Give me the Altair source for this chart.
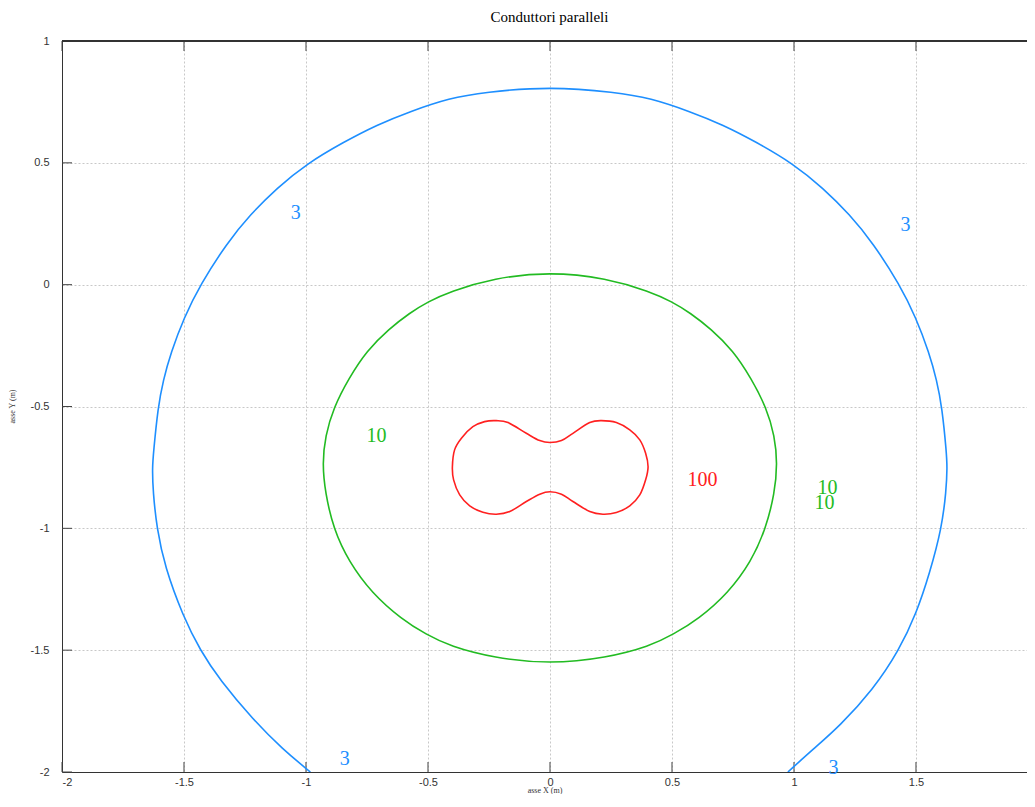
import altair as alt
import pandas as pd

# contour level 3 (open: cut by the bottom of the plot)
blue_x = [-0.982, -1.094, -1.217, -1.354, -1.433, -1.504, -1.579, -1.611, -1.627, -1.630, -1.625,
          -1.607, -1.585, -1.554, -1.500, -1.433, -1.324, -1.228, -1.119, -0.996, -0.846, -0.709,
          -0.573, -0.411, -0.270, 0.0,
          0.270, 0.411, 0.573, 0.709, 0.846, 0.996, 1.119, 1.228, 1.324, 1.433, 1.500, 1.554,
          1.585, 1.607, 1.625, 1.628, 1.624, 1.605, 1.556, 1.502, 1.430, 1.324, 1.187, 1.080, 0.975]
blue_y = [-2.0, -1.908, -1.785, -1.621, -1.502, -1.361, -1.157, -1.002, -0.850, -0.750, -0.689,
          -0.505, -0.391, -0.280, -0.135, 0.0, 0.171, 0.288, 0.397, 0.497, 0.585, 0.656,
          0.711, 0.766, 0.790, 0.8135,
          0.790, 0.766, 0.711, 0.656, 0.585, 0.497, 0.397, 0.288, 0.171, 0.0, -0.135, -0.280,
          -0.391, -0.505, -0.689, -0.750, -0.845, -1.002, -1.184, -1.348, -1.502, -1.662, -1.812,
          -1.905, -2.0]

# contour level 10 (closed)
green_x = [0.0, 0.231, 0.409, 0.500, 0.575, 0.660, 0.750, 0.825, 0.887, 0.921, 0.932, 0.921,
           0.884, 0.825, 0.730, 0.609, 0.504, 0.409, 0.231, 0.0, -0.231, -0.409, -0.507, -0.609,
           -0.730, -0.825, -0.887, -0.921, -0.933, -0.921, -0.887, -0.825, -0.750, -0.660,
           -0.575, -0.500, -0.409, -0.231]
green_y = [0.053, 0.027, -0.028, -0.070, -0.116, -0.182, -0.270, -0.385, -0.505, -0.621, -0.733,
           -0.856, -1.003, -1.136, -1.266, -1.372, -1.436, -1.484, -1.532, -1.557, -1.532, -1.484,
           -1.436, -1.372, -1.266, -1.136, -1.003, -0.856, -0.733, -0.621, -0.505, -0.385, -0.270,
           -0.182, -0.116, -0.070, -0.028, 0.027]

# contour level 100 (closed)
red_x = [0.0, 0.047, 0.094, 0.163, 0.211, 0.272, 0.327, 0.368, 0.392, 0.402, 0.392, 0.368, 0.327,
         0.272, 0.217, 0.163, 0.094, 0.047, 0.0, -0.042, -0.097, -0.165, -0.220, -0.275, -0.329,
         -0.370, -0.395, -0.400, -0.391, -0.363, -0.316, -0.268, -0.220, -0.172, -0.097, -0.042]
red_y = [-0.648, -0.640, -0.610, -0.566, -0.558, -0.566, -0.596, -0.637, -0.692, -0.747, -0.801,
         -0.863, -0.908, -0.935, -0.942, -0.931, -0.890, -0.860, -0.850, -0.860, -0.890, -0.931,
         -0.942, -0.934, -0.908, -0.863, -0.801, -0.747, -0.678, -0.630, -0.583, -0.562, -0.558,
         -0.566, -0.610, -0.640]

# contour labels
label_text = ["3", "3", "3", "3", "10", "10", "10", "100"]
label_x = [-1.042, 1.457, -0.841, 1.162, -0.711, 1.137, 1.125, 0.625]
label_y = [0.293, 0.244, -1.945, -1.982, -0.621, -0.834, -0.895, -0.801]

levels = ["3", "10", "100"]
level_colors = ["#1e8fff", "#22bb22", "#ff2020"]

x_ticks = [-2, -1.5, -1, -0.5, 0, 0.5, 1, 1.5]
y_ticks = [1, 0.5, 0, -0.5, -1, -1.5, -2]

W, H = 965, 731

xscale = alt.Scale(domain=[-2, 1.955], nice=False, zero=False)
yscale = alt.Scale(domain=[-2, 1], nice=False, zero=False)
cscale = alt.Scale(domain=levels, range=level_colors)

xaxis = alt.Axis(values=x_ticks, labelExpr="datum.value + ''", title="asse X (m)",
                 ticks=False, grid=True, labelPadding=4, titleY=18,
                 titleBaseline="middle")
yaxis = alt.Axis(values=y_ticks, labelExpr="datum.value + ''", title="asse Y (m)",
                 ticks=False, grid=True, labelPadding=13, titleX=-50, titleY=365,
                 titleAngle=-90, titleAlign="center", titleBaseline="middle")


def contour(xs, ys, level, interp):
    df = pd.DataFrame({"x": xs, "y": ys, "o": list(range(len(xs))), "level": level})
    return alt.Chart(df).mark_line(interpolate=interp, strokeWidth=1.6, clip=True).encode(
        x=alt.X("x:Q", scale=xscale, axis=xaxis),
        y=alt.Y("y:Q", scale=yscale, axis=yaxis),
        order="o:Q",
        color=alt.Color("level:N", scale=cscale, legend=None),
    )


blue = contour(blue_x, blue_y, "3", "basis")
green = contour(green_x, green_y, "10", "basis-closed")
red = contour(red_x, red_y, "100", "cardinal-closed")

lab_df = pd.DataFrame({"x": label_x, "y": label_y, "t": label_text})
labels = alt.Chart(lab_df).mark_text(font="Liberation Serif", fontSize=20, align="center",
                                     baseline="middle").encode(
    x=alt.X("x:Q", scale=xscale, axis=xaxis),
    y=alt.Y("y:Q", scale=yscale, axis=yaxis),
    text="t:N",
    color=alt.Color("t:N", scale=cscale, legend=None),
)

xt = pd.DataFrame({"v": x_ticks})
yt = pd.DataFrame({"v": y_ticks})
tick_col = "#444444"
bottom_ticks = alt.Chart(xt).mark_rule(color=tick_col).encode(
    x=alt.X("v:Q", scale=xscale, axis=xaxis), y=alt.value(H), y2=alt.value(H - 10))
top_ticks = alt.Chart(xt).mark_rule(color=tick_col).encode(
    x=alt.X("v:Q", scale=xscale, axis=xaxis), y=alt.value(0), y2=alt.value(10))
left_ticks = alt.Chart(yt).mark_rule(color=tick_col).encode(
    y=alt.Y("v:Q", scale=yscale, axis=yaxis), x=alt.value(0), x2=alt.value(10))
top_border = alt.Chart(xt).mark_rule(color="#333333").encode(
    x=alt.value(0), x2=alt.value(W), y=alt.value(0))

chart = alt.layer(
    bottom_ticks, top_ticks, left_ticks, top_border, blue, green, red, labels
).properties(
    width=W, height=H,
    autosize=alt.AutoSizeParams(type="none"),
    padding={"left": 54, "top": 33, "right": 0, "bottom": 22},
    title=alt.TitleParams("Conduttori paralleli", font="Liberation Serif", fontSize=15,
                          fontWeight="normal", color="#000000", offset=10, dx=5),
).configure_view(
    stroke=None
).configure_axis(
    labelFont="Liberation Sans", labelFontSize=11, labelColor="#333333",
    titleFont="Liberation Serif", titleFontSize=8, titleFontWeight="normal", titleColor="#333333",
    domainColor="#333333", domainWidth=1,
    gridColor="#c8c8c8", gridDash=[2, 2], gridWidth=1,
)

chart.save("out.html", embed_options={"renderer": "svg", "actions": False})
